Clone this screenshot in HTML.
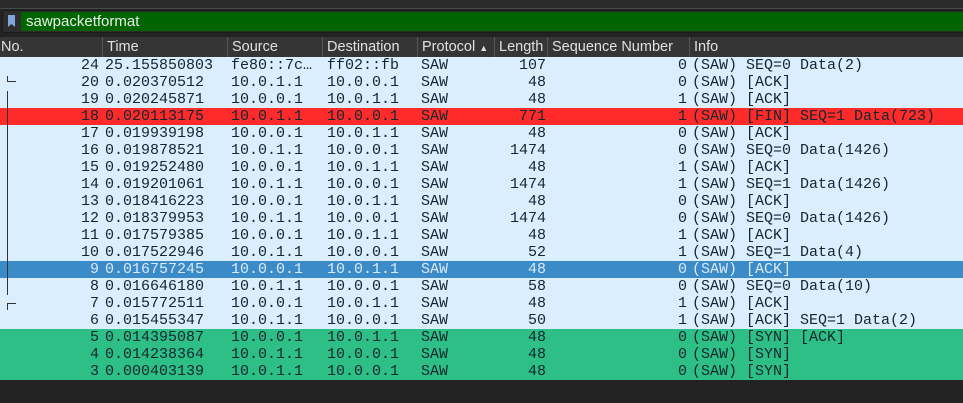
<!DOCTYPE html>
<html><head><meta charset="utf-8"><style>
body{margin:0;width:963px;height:403px;background:#232323;overflow:hidden;font-family:"Liberation Sans",sans-serif;position:relative}
#top{position:absolute;left:0;top:0;width:963px;height:8px;background:#2b2b2b;border-bottom:1px solid #4a4a4a}
#filter{position:absolute;left:2px;top:10px;width:961px;height:21px;background:#2d2d2d;border:1px solid #1a1a1a;border-radius:3px}
#filter .ico{position:absolute;left:5px;top:4px;width:7px;height:12px;background:#7fa6d8;clip-path:polygon(0 0,100% 0,100% 100%,50% 75%,0 100%)}
#filter .in{position:absolute;left:18px;top:1px;right:0;height:19px;background:#006400;color:#e8f0e8;font-size:15px;line-height:19px;padding-left:5px}
#hdr{position:absolute;left:0;top:37px;width:963px;height:20px;background:#353535;color:#e0e0e0;font-size:14.5px;line-height:20px}
#hdr div{position:absolute;top:0;height:20px;border-left:1px solid #555;padding-left:4px;box-sizing:border-box}
.row{position:absolute;left:0;width:963px;height:17px;font-family:"Liberation Mono",monospace;font-size:15px;line-height:17px;color:#12272f;white-space:pre}
.row span{position:absolute;top:0}
.r{text-align:right}
</style></head><body>
<div id="top"></div>
<div id="filter"><div class="ico"></div><div class="in">sawpacketformat</div></div>
<div id="hdr">
<div style="left:0;width:102px;border-left:none;padding-left:1px">No.</div>
<div style="left:102px;width:125px">Time</div>
<div style="left:227px;width:95px">Source</div>
<div style="left:322px;width:95px">Destination</div>
<div style="left:417px;width:77px">Protocol <span style="font-size:9px">▲</span></div>
<div style="left:494px;width:53px">Length</div>
<div style="left:547px;width:142px">Sequence Number</div>
<div style="left:689px;width:274px">Info</div>
</div>
<div id="rows"></div>
<script>
const rows=[
["24","25.155850803","fe80::7c…","ff02::fb","107","0","(SAW) SEQ=0 Data(2)","n"],
["20","0.020370512","10.0.1.1","10.0.0.1","48","0","(SAW) [ACK]","n"],
["19","0.020245871","10.0.0.1","10.0.1.1","48","1","(SAW) [ACK]","n"],
["18","0.020113175","10.0.1.1","10.0.0.1","771","1","(SAW) [FIN] SEQ=1 Data(723)","r"],
["17","0.019939198","10.0.0.1","10.0.1.1","48","0","(SAW) [ACK]","n"],
["16","0.019878521","10.0.1.1","10.0.0.1","1474","0","(SAW) SEQ=0 Data(1426)","n"],
["15","0.019252480","10.0.0.1","10.0.1.1","48","1","(SAW) [ACK]","n"],
["14","0.019201061","10.0.1.1","10.0.0.1","1474","1","(SAW) SEQ=1 Data(1426)","n"],
["13","0.018416223","10.0.0.1","10.0.1.1","48","0","(SAW) [ACK]","n"],
["12","0.018379953","10.0.1.1","10.0.0.1","1474","0","(SAW) SEQ=0 Data(1426)","n"],
["11","0.017579385","10.0.0.1","10.0.1.1","48","1","(SAW) [ACK]","n"],
["10","0.017522946","10.0.1.1","10.0.0.1","52","1","(SAW) SEQ=1 Data(4)","n"],
["9","0.016757245","10.0.0.1","10.0.1.1","48","0","(SAW) [ACK]","s"],
["8","0.016646180","10.0.1.1","10.0.0.1","58","0","(SAW) SEQ=0 Data(10)","n"],
["7","0.015772511","10.0.0.1","10.0.1.1","48","1","(SAW) [ACK]","n"],
["6","0.015455347","10.0.1.1","10.0.0.1","50","1","(SAW) [ACK] SEQ=1 Data(2)","n"],
["5","0.014395087","10.0.0.1","10.0.1.1","48","0","(SAW) [SYN] [ACK]","g"],
["4","0.014238364","10.0.1.1","10.0.0.1","48","0","(SAW) [SYN]","g"],
["3","0.000403139","10.0.1.1","10.0.0.1","48","0","(SAW) [SYN]","g"]];
const bg={n:"#daeefe",r:"#ff2a2a",s:"#3a8bc8",g:"#2ebf86"};
const c=document.getElementById('rows');
rows.forEach((d,i)=>{
 const r=document.createElement('div');r.className='row';
 
 
 r.style.top=(57+i*17)+'px';r.style.background=bg[d[7]];
 if(d[7]=='s')r.style.color='#dbe9f5';
 r.innerHTML=`<span class="r" style="left:0;width:99px">${d[0]}</span><span style="left:105px">${d[1]}</span><span style="left:231px">${d[2]}</span><span style="left:327px">${d[3]}</span><span style="left:421px">SAW</span><span class="r" style="left:490px;width:56px">${d[4]}</span><span class="r" style="left:550px;width:137px">${d[5]}</span><span style="left:692px">${d[6]}</span>`;
 c.appendChild(r);
});
const tl=document.createElement('div');


tl.style.cssText='position:absolute;left:7px;top:91px;width:1px;height:204px;background:#333';
c.appendChild(tl);
const t1=document.createElement('div');


t1.style.cssText='position:absolute;left:7px;top:76px;width:8px;height:5px;border-left:1px solid #333;border-bottom:1px solid #333';
c.appendChild(t1);
const t2=document.createElement('div');


t2.style.cssText='position:absolute;left:7px;top:303px;width:8px;height:6px;border-left:1px solid #333;border-top:1px solid #333';
c.appendChild(t2);
</script>
</body></html>
